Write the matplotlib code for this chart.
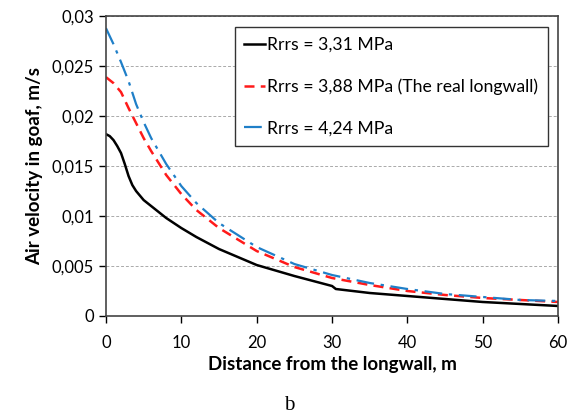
import matplotlib
matplotlib.use('Agg')
import matplotlib.pyplot as plt
from matplotlib.ticker import FuncFormatter

# distance from the longwall, m
dist_black = [0, 0.5, 1, 1.5, 2, 2.5, 3, 3.5, 4, 5, 6, 8, 10, 12, 15, 20, 25, 30, 30.5,
              35, 40, 45, 50, 55, 60]
v_331 = [0.0182, 0.0180, 0.0176, 0.0170, 0.0163, 0.0152, 0.0140, 0.0131, 0.0125, 0.0116,
         0.0110, 0.0098, 0.0088, 0.0079, 0.0067, 0.0051, 0.0040, 0.0030, 0.0027, 0.0023,
         0.0020, 0.0017, 0.0014, 0.0012, 0.0010]

dist = [0, 1, 2, 3, 4, 5, 6, 8, 10, 12, 15, 20, 25, 30, 35, 40, 45, 50, 55, 60]
v_388 = [0.0239, 0.0233, 0.0224, 0.0208, 0.0193, 0.0178, 0.0165, 0.0141, 0.0122, 0.0106,
         0.0088, 0.0065, 0.0049, 0.0038, 0.0031, 0.0025, 0.0021, 0.0018, 0.0016, 0.0014]
v_424 = [0.0288, 0.0272, 0.0254, 0.0235, 0.0212, 0.0194, 0.0178, 0.0152, 0.0130, 0.0113,
         0.0093, 0.0069, 0.0052, 0.0041, 0.0033, 0.0027, 0.0022, 0.0019, 0.0016, 0.0015]

labels = ['Rrrs = 3,31 MPa', 'Rrrs = 3,88 MPa (The real longwall)', 'Rrrs = 4,24 MPa']

plt.rcParams['font.family'] = ['Lato', 'DejaVu Sans']

fig = plt.figure(figsize=(5.79, 4.15), dpi=100)
ax = fig.add_axes([0.183, 0.2386, 0.781, 0.7224])

ax.plot(dist_black, v_331, color='black', lw=1.8, label=labels[0])
ax.plot(dist, v_388, color='#ff1a1a', lw=1.8, ls=(0, (4, 2.5)), label=labels[1])
ax.plot(dist, v_424, color='#1f7fc8', lw=1.6, ls=(0, (8, 3, 1.5, 3)), label=labels[2])

ax.set_xlim(0, 60)
ax.set_ylim(0, 0.03)
ax.set_xticks(range(0, 61, 10))
ax.set_yticks([0, 0.005, 0.01, 0.015, 0.02, 0.025, 0.03])
ax.yaxis.set_major_formatter(FuncFormatter(lambda v, p: ('%g' % v).replace('.', ',')))
ax.tick_params(direction='out', length=5, labelsize=12, width=1)
ax.tick_params(axis='x', pad=9)
ax.yaxis.grid(True, ls=(0, (3, 2)), color='#aaaaaa', lw=0.7)
for s in ax.spines.values():
    s.set_color('#444444')
    s.set_linewidth(1.2)

ax.set_xlabel('Distance from the longwall, m', fontsize=13.5, fontweight='bold', labelpad=3)
ax.set_ylabel('Air velocity in goaf, m/s', fontsize=13.5, fontweight='bold', labelpad=6)

leg = ax.legend(loc='upper left', bbox_to_anchor=(0.265, 0.993), fontsize=12.7,
                handlelength=1.2, handletextpad=0.1, labelspacing=1.45,
                fancybox=False, framealpha=1, borderpad=0.55)
leg.get_frame().set_edgecolor('#333333')
leg.get_frame().set_linewidth(1.0)

fig.text(0.5, 0.024, 'b', fontsize=15, family='Liberation Serif', ha='center', va='center')

fig.savefig('out.png', dpi=100)
